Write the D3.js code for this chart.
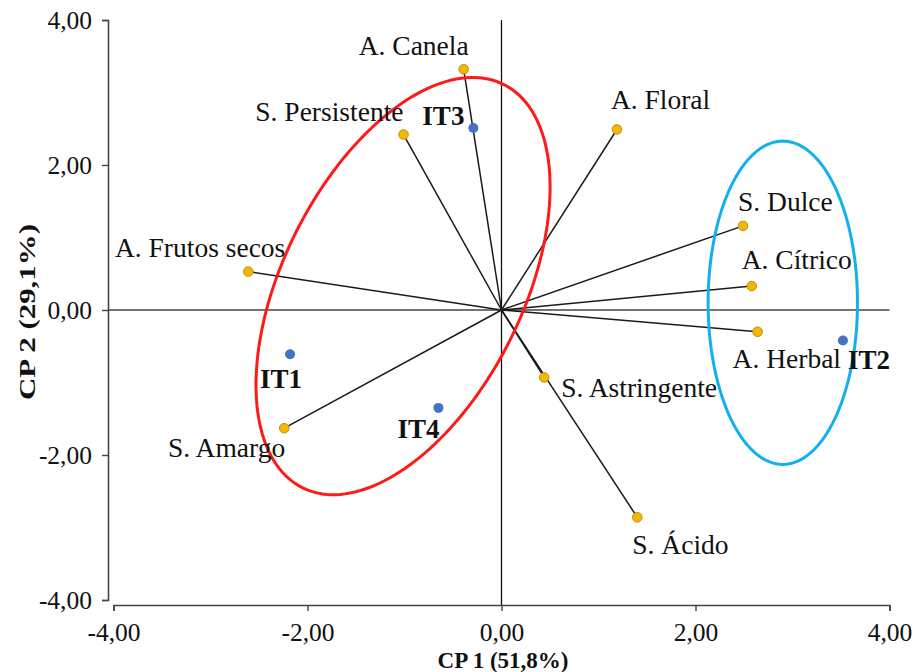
<!DOCTYPE html>
<html>
<head>
<meta charset="utf-8">
<script src="https://cdn.jsdelivr.net/npm/d3@7"></script>
<style>
  html, body { margin: 0; padding: 0; background: #fff; }
  svg { display: block; }
  text { font-family: "Liberation Serif", "Times New Roman", serif; fill: #111; }
</style>
</head>
<body>
<svg id="chart" width="919" height="672"></svg>
<script>
// PCA biplot: sensory attributes (loadings) and samples (scores)
const attributeNames = ["A. Canela", "S. Persistente", "A. Floral", "A. Frutos secos", "S. Dulce",
                        "A. Cítrico", "A. Herbal", "S. Astringente", "S. Amargo", "S. Ácido"];
const attributeCP1 = [-0.39, -1.01, 1.19, -2.61, 2.49, 2.58, 2.64, 0.44, -2.24, 1.40];
const attributeCP2 = [3.32, 2.42, 2.49, 0.53, 1.16, 0.33, -0.30, -0.93, -1.63, -2.86];

const sampleNames = ["IT1", "IT2", "IT3", "IT4"];
const sampleCP1 = [-2.18, 3.52, -0.29, -0.65];
const sampleCP2 = [-0.61, -0.42, 2.51, -1.35];

const tickValues = [-4, -2, 0, 2, 4];
const xTitle = "CP 1 (51,8%)";
const yTitle = "CP 2 (29,1%)";

// Group ellipses in data units: centre plus two conjugate semi-axis vectors
const groupNames = ["IT1-IT3-IT4", "IT2"];
const groupCentre = [[-1.015, 0.33], [2.90, 0.10]];
const groupAxisU = [[1.039, 2.78], [0.77, 0]];
const groupAxisV = [[1.104, -0.742], [0, 2.23]];
const groupColour = ["#ff1a1a", "#12b0ee"];

// label placement relative to each mark (px): [dx, dy, anchor]
const attributeLabelPos = {
  "A. Canela": [5, -14, "end"],
  "S. Persistente": [0, -14, "end"],
  "A. Floral": [-6, -20, "start"],
  "A. Frutos secos": [37, -15, "end"],
  "S. Dulce": [-5, -15, "start"],
  "A. Cítrico": [-10, -17, "start"],
  "A. Herbal": [-25, 36, "start"],
  "S. Astringente": [17, 20, "start"],
  "S. Amargo": [1, 29, "end"],
  "S. Ácido": [-5, 37, "start"]
};
const sampleLabelPos = {
  "IT1": [-30, 34], "IT2": [5, 29], "IT3": [-51, -3], "IT4": [-41, 30]
};

const svg = d3.select("#chart");
const fmt = v => d3.format(".2f")(v).replace(".", ",").replace("\u2212", "-");

const x = d3.scaleLinear().domain([-4, 4]).range([113.5, 889.5]);
const y = d3.scaleLinear().domain([-4, 4]).range([600, 20]);
const yAxisX = 108, xAxisY = 605;

// axes
const gx = svg.append("g").attr("transform", `translate(0,${xAxisY})`)
  .call(d3.axisBottom(x).tickValues(tickValues).tickFormat(fmt).tickSizeOuter(0).tickSize(6).tickPadding(12));
const gy = svg.append("g").attr("transform", `translate(${yAxisX},0)`)
  .call(d3.axisLeft(y).tickValues(tickValues).tickFormat(fmt).tickSizeOuter(0).tickSize(6).tickPadding(10));
[gx, gy].forEach(g => {
  g.select(".domain").attr("stroke", "#444").attr("stroke-width", 1.6);
  g.selectAll(".tick line").attr("stroke", "#444").attr("stroke-width", 1.4);
  g.selectAll(".tick text").attr("font-size", 25.5).attr("font-family", "'Liberation Serif', serif").attr("fill", "#111");
});

// zero reference lines
svg.append("line").attr("x1", yAxisX).attr("x2", x(4)).attr("y1", y(0)).attr("y2", y(0))
  .attr("stroke", "#444").attr("stroke-width", 1.6);
svg.append("line").attr("x1", x(0)).attr("x2", x(0)).attr("y1", y(4)).attr("y2", xAxisY)
  .attr("stroke", "#111").attr("stroke-width", 1.3);

const attributes = attributeNames.map((n, i) => ({ name: n, cp1: attributeCP1[i], cp2: attributeCP2[i] }));
const samples = sampleNames.map((n, i) => ({ name: n, cp1: sampleCP1[i], cp2: sampleCP2[i] }));

// loading vectors
svg.append("g").selectAll("line").data(attributes).join("line")
  .attr("x1", x(0)).attr("y1", y(0))
  .attr("x2", d => x(d.cp1)).attr("y2", d => y(d.cp2))
  .attr("stroke", "#1a1a1a").attr("stroke-width", 1.5);

// group ellipses
const ts = d3.range(0, 2 * Math.PI + 0.001, Math.PI / 90);
const ellLine = d3.line().x(p => x(p[0])).y(p => y(p[1])).curve(d3.curveLinearClosed);
groupNames.forEach((g, i) => {
  const c = groupCentre[i], u = groupAxisU[i], v = groupAxisV[i];
  const pts = ts.map(t => [c[0] + Math.cos(t) * u[0] + Math.sin(t) * v[0],
                           c[1] + Math.cos(t) * u[1] + Math.sin(t) * v[1]]);
  svg.append("path").attr("d", ellLine(pts)).attr("fill", "none")
    .attr("stroke", groupColour[i]).attr("stroke-width", 3);
});

// attribute points and labels
svg.append("g").selectAll("circle").data(attributes).join("circle")
  .attr("cx", d => x(d.cp1)).attr("cy", d => y(d.cp2)).attr("r", 4.8)
  .attr("fill", "#f2b705").attr("stroke", "#c98f00").attr("stroke-width", 1);
svg.append("g").selectAll("text").data(attributes).join("text")
  .attr("x", d => x(d.cp1) + attributeLabelPos[d.name][0])
  .attr("y", d => y(d.cp2) + attributeLabelPos[d.name][1])
  .attr("text-anchor", d => attributeLabelPos[d.name][2])
  .attr("font-size", 27.5)
  .text(d => d.name);

// sample points and labels
svg.append("g").selectAll("circle").data(samples).join("circle")
  .attr("cx", d => x(d.cp1)).attr("cy", d => y(d.cp2)).attr("r", 5)
  .attr("fill", "#4472c4");
svg.append("g").selectAll("text").data(samples).join("text")
  .attr("x", d => x(d.cp1) + sampleLabelPos[d.name][0])
  .attr("y", d => y(d.cp2) + sampleLabelPos[d.name][1])
  .attr("font-size", 27).attr("font-weight", "bold")
  .text(d => d.name);

// axis titles
svg.append("text").attr("x", 503).attr("y", 668).attr("text-anchor", "middle")
  .attr("font-size", 23).attr("font-weight", "bold").text(xTitle);
svg.append("text").attr("transform", `translate(35,312) rotate(-90)`).attr("text-anchor", "middle")
  .attr("font-size", 24).attr("font-weight", "bold")
  .attr("textLength", 176).attr("lengthAdjust", "spacingAndGlyphs").text(yTitle);
</script>
</body>
</html>
